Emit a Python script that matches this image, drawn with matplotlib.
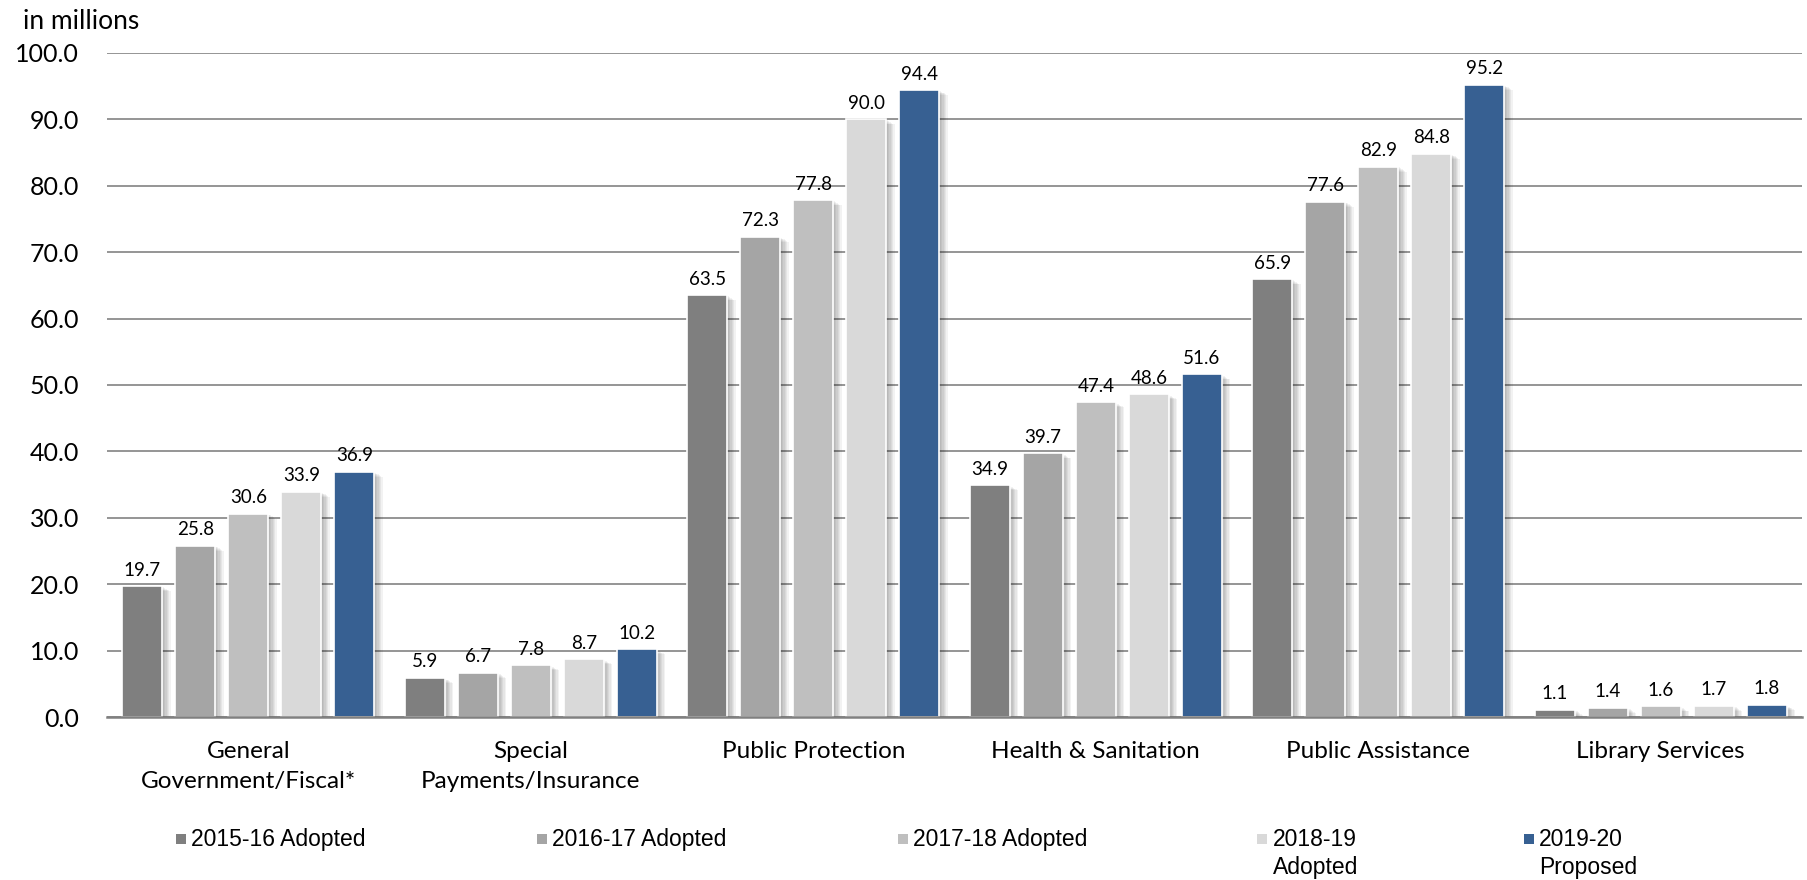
import numpy as np
import matplotlib
matplotlib.use("Agg")
import matplotlib.pyplot as plt
import matplotlib.patheffects as pe
from matplotlib.patches import Rectangle
from matplotlib import font_manager

categories = ["General\nGovernment/Fiscal*", "Special\nPayments/Insurance", "Public Protection",
              "Health & Sanitation", "Public Assistance", "Library Services"]
series_names = ["2015-16 Adopted", "2016-17 Adopted", "2017-18 Adopted",
                "2018-19\nAdopted", "2019-20\nProposed"]
v_2015 = [19.7, 5.9, 63.5, 34.9, 65.9, 1.1]
v_2016 = [25.8, 6.7, 72.3, 39.7, 77.6, 1.4]
v_2017 = [30.6, 7.8, 77.8, 47.4, 82.9, 1.6]
v_2018 = [33.9, 8.7, 90.0, 48.6, 84.8, 1.7]
v_2019 = [36.9, 10.2, 94.4, 51.6, 95.2, 1.8]
all_values = [v_2015, v_2016, v_2017, v_2018, v_2019]
colors = ["#7f7f7f", "#a5a5a5", "#bfbfbf", "#d9d9d9", "#376092"]
yticks = np.arange(0, 101, 10)

names = {f.name for f in font_manager.fontManager.ttflist}
main_font = "Lato" if "Lato" in names else "DejaVu Sans"
leg_font = "Liberation Sans"
plt.rcParams['font.family'] = [main_font, 'DejaVu Sans']

fig = plt.figure(figsize=(18.08, 8.8), dpi=100)
ax = fig.add_axes([0.0592, 0.1852, 0.9375, 0.7546])

x = np.arange(len(categories))
step = 0.1876
width = 0.142
# soft shadow: a few faint copies, each a bit further out
shadow = [pe.SimplePatchShadow(offset=(d, -d * 0.6), shadow_rgbFace="k", alpha=0.05)
          for d in (1, 2, 3, 4, 5, 6)] + [pe.Normal()]

for i, vals in enumerate(all_values):
    pos = x + (i - 2) * step
    bars = ax.bar(pos, vals, width=width, color=colors[i], edgecolor="white",
                  linewidth=1.2, zorder=3)
    for b in bars:
        b.set_path_effects(shadow)
    for p, v in zip(pos, vals):
        ax.annotate(f"{v:.1f}", (p, v), xytext=(0, 5.5), textcoords="offset points",
                    ha="center", va="bottom", fontsize=13.5, color="black", zorder=4)

ax.set_xlim(-0.5, len(categories) - 0.5)
ax.set_ylim(0, 100)
ax.set_yticks(yticks)
ax.set_yticklabels([f"{t:.1f}" for t in yticks], fontsize=18)
ax.set_xticks(x)
ax.set_xticklabels(categories, fontsize=17.5, linespacing=1.55)
ax.tick_params(axis="both", length=0)
ax.tick_params(axis="y", pad=20)
ax.tick_params(axis="x", pad=17)
ax.grid(axis="y", color="#8c8c8c", linewidth=1.3, zorder=0)
for s in ["top", "right", "left"]:
    ax.spines[s].set_visible(False)
ax.spines["bottom"].set_color("#808080")
ax.spines["bottom"].set_linewidth(1.8)
ax.spines["bottom"].set_zorder(5)

fig.text(0.0127, 0.976, "in millions", fontsize=19, ha="left", va="center")

# legend placed by hand to follow the original spacing
leg_x = [0.0973, 0.2970, 0.4966, 0.6955, 0.8431]
line_gap = 28 / 880
for lx, name, c in zip(leg_x, series_names, colors):
    fig.patches.append(Rectangle((lx, 0.0404), 10 / 1808, 10 / 880, transform=fig.transFigure,
                                 facecolor=c, edgecolor="none"))
    for k, line in enumerate(name.split("\n")):
        fig.text(lx + 15 / 1808, 0.0455 - k * line_gap, line, fontsize=16.5,
                 family=[leg_font, 'DejaVu Sans'], ha="left", va="center")

fig.savefig("out.png", dpi=100)
